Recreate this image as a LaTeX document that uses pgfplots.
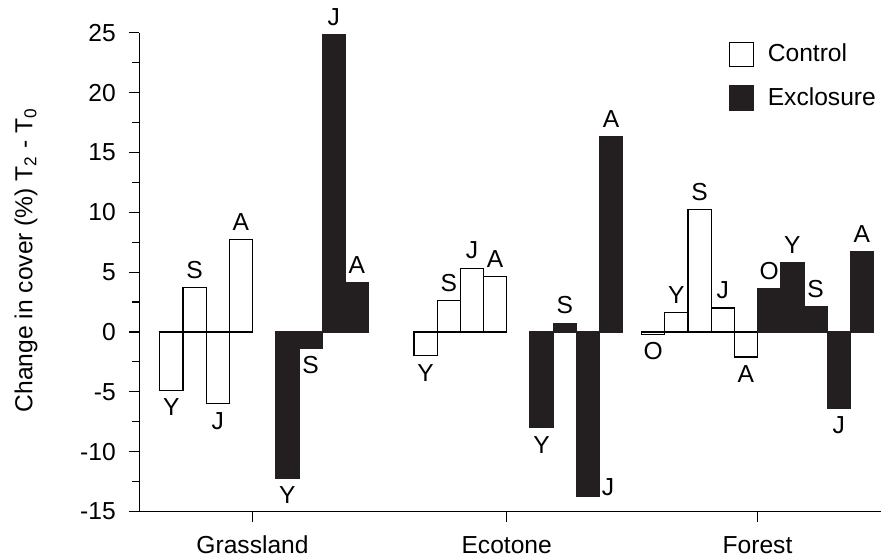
\documentclass[border=0pt]{standalone}
\usepackage{fontspec}
\setmainfont{Liberation Sans}
\usepackage{pgfplots}
\pgfplotsset{compat=1.18}
\definecolor{barblack}{RGB}{35,31,32}
\begin{document}
\fontsize{12.3}{14}\selectfont
\begin{tikzpicture}
\begin{axis}[
  at={(0,0)}, anchor=south west,
  scale only axis, width=370.85pt, height=239.4pt,
  xmin=139.3, xmax=881, ymin=-15, ymax=25,
  axis x line=bottom, axis y line=left,
  axis line style={-, line width=0.6pt, black},
  tick align=outside,
  xtick={252.5,506.7,757.5}, xticklabels={Grassland,Ecotone,Forest},
  ytick={-15,-10,...,25}, minor y tick num=1,
  yticklabels={-15,-10,-5,0,5,10,15,20,25},
  major tick length=5pt, minor tick length=3.5pt,
  tick style={line width=0.6pt, black},
  /pgf/number format/assume math mode=true,
  every tick label/.append style={font=\fontsize{12.3}{14}\selectfont},
  yticklabel style={xshift=-2.5pt},
  xticklabel style={yshift=-3pt},
  ylabel={Change in cover (\%) T\textsubscript{2} - T\textsubscript{0}},
  ylabel style={at={(axis description cs:-0.144,0.525)}, anchor=base, font=\fontsize{12.3}{14}\selectfont},
  legend style={draw=none, fill=none, at={(0.794,0.981)}, anchor=north west,
    inner sep=0pt, row sep=9pt, column sep=7pt,
    nodes={inner sep=0pt, anchor=west}, font=\fontsize{12.3}{14}\selectfont},
  legend cell align=left,
  clip=false,
]
% Control
\addplot[ybar, bar width=23.2, bar shift=0pt, draw=black, fill=white, line width=0.6pt,
  legend image code/.code={\draw[draw=black, fill=white, line width=0.6pt] (0pt,-6pt) rectangle (12pt,6pt);}]
  coordinates {
  (171.3,-4.9) (194.5,3.7) (217.7,-6.0) (240.9,7.7)
  (425.5,-2.0) (448.7,2.6) (471.9,5.3) (495.1,4.6)
  (653.1,-0.2) (676.3,1.6) (699.5,10.2) (722.7,2.0) (745.9,-2.1)
  };
\addlegendentry{Control}
% Exclosure
\addplot[ybar, bar width=23.2, bar shift=0pt, draw=barblack, fill=barblack, line width=0.6pt,
  legend image code/.code={\draw[draw=barblack, fill=barblack, line width=0.6pt] (0pt,-6pt) rectangle (12pt,6pt);}]
  coordinates {
  (287.3,-12.2) (310.5,-1.35) (333.7,24.8) (356.9,4.1)
  (541.5,-8.0) (564.7,0.7) (587.9,-13.7) (611.1,16.3)
  (769.1,3.6) (792.3,5.8) (815.5,2.1) (838.7,-6.4) (861.9,6.7)
  };
\addlegendentry{Exclosure}
% letter labels above bars
\addplot[forget plot, only marks, mark=*, mark size=0pt, mark options={draw=none, fill=none},
  nodes near coords, point meta=explicit symbolic,
  nodes near coords style={anchor=south, inner sep=4.5pt, font=\fontsize{12.3}{14}\selectfont, text=black}]
  coordinates {
  (194.5,3.7)[S] (240.9,7.7)[A]
  (333.7,24.8)[J] (356.9,4.1)[A]
  (448.7,2.6)[S] (471.9,5.3)[J] (495.1,4.6)[A]
  (564.7,0.7)[S] (611.1,16.3)[A]
  (676.3,1.6)[Y] (699.5,10.2)[S] (722.7,2.0)[J]
  (769.1,3.6)[O] (792.3,5.8)[Y] (815.5,2.1)[S] (861.9,6.7)[A]
  };
% letter labels below bars
\addplot[forget plot, only marks, mark=*, mark size=0pt, mark options={draw=none, fill=none},
  nodes near coords, point meta=explicit symbolic,
  nodes near coords style={anchor=north, inner sep=4pt, font=\fontsize{12.3}{14}\selectfont, text=black}]
  coordinates {
  (171.3,-4.9)[Y] (217.7,-6.0)[J]
  (287.3,-12.2)[Y] (310.5,-1.35)[S]
  (425.5,-2.0)[Y]
  (541.5,-8.0)[Y]
  (653.1,-0.2)[O] (745.9,-2.1)[A]
  (838.7,-6.4)[J]
  };
% J beside the Ecotone exclosure bar
\addplot[forget plot, only marks, mark=*, mark size=0pt, mark options={draw=none, fill=none},
  nodes near coords, point meta=explicit symbolic,
  nodes near coords style={anchor=south, inner sep=0pt, font=\fontsize{12.3}{14}\selectfont, text=black}]
  coordinates {(608,-13.7)[J]};
\end{axis}
\pgfresetboundingbox
\useasboundingbox (-69.65pt,-22.75pt) rectangle (370.85pt,255.75pt);
\end{tikzpicture}
\end{document}
